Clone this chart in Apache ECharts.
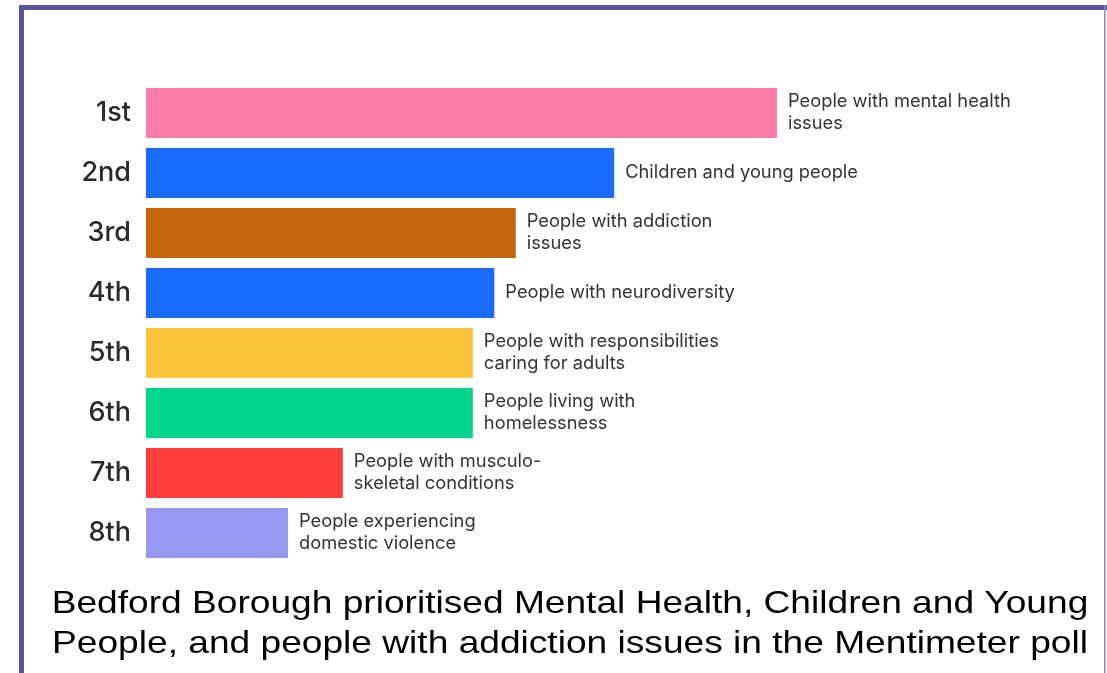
<!DOCTYPE html>
<html>
<head>
<meta charset="utf-8">
<script src="https://cdn.jsdelivr.net/npm/echarts@6/dist/echarts.min.js"></script>
<style>
  html, body { margin: 0; padding: 0; background: #fff; }
  #chartWrap { width: 1107px; height: 673px; }
</style>
</head>
<body>
<div id="chartWrap"></div>
<script>
// rank labels (top to bottom)
var ranks = ['1st', '2nd', '3rd', '4th', '5th', '6th', '7th', '8th'];
// group names shown beside each bar
var groups = [
  'People with mental health\nissues',
  'Children and young people',
  'People with addiction\nissues',
  'People with neurodiversity',
  'People with responsibilities\ncaring for adults',
  'People living with\nhomelessness',
  'People with musculo-\nskeletal conditions',
  'People experiencing\ndomestic violence'
];
// relative score (first place = 100)
var scores = [100, 74.2, 58.6, 55.2, 51.8, 51.8, 31.2, 22.5];
var colours = ['#ff7ea8', '#196cff', '#c8640c', '#196cff', '#fbc43a', '#03d68a', '#ff3d3d', '#9597f0'];
var caption = [
  'Bedford Borough prioritised Mental Health, Children and Young',
  'People, and people with addiction issues in the Mentimeter poll'
];

var dom = document.getElementById('chartWrap');
var myChart = echarts.init(dom);

var barData = [];
for (var i = 0; i < scores.length; i++) {
  barData.push({
    value: scores[i],
    itemStyle: { color: colours[i] },
    label: { formatter: groups[i] }
  });
}

var option = {
  backgroundColor: '#fff',
  animation: false,
  grid: {
    left: 146,
    top: 83,
    width: 631,
    height: 480
  },
  xAxis: {
    type: 'value',
    min: 0,
    max: 100,
    show: false
  },
  yAxis: {
    type: 'category',
    inverse: true,
    data: ranks,
    axisLine: { show: false },
    axisTick: { show: false },
    axisLabel: {
      margin: 15,
      fontFamily: 'Inter',
      fontSize: 27,
      fontWeight: 500,
      color: '#2b2b2b',
      padding: [4, 0, 0, 0]
    }
  },
  series: [{
    type: 'bar',
    data: barData,
    barCategoryGap: '16.7%',
    label: {
      show: true,
      position: 'right',
      distance: 11,
      fontFamily: 'Inter',
      fontSize: 18.3,
      lineHeight: 22,
      color: '#333',
      align: 'left',
      padding: [0, 0, 10, 0]
    }
  }],
  graphic: [
    // frame
    { type: 'rect', shape: { x: 19, y: 5, width: 5, height: 668 }, style: { fill: '#57529c' } },
    { type: 'rect', shape: { x: 19, y: 5, width: 1088, height: 5 }, style: { fill: '#57529c' } },
    { type: 'rect', shape: { x: 1104, y: 5, width: 1.5, height: 668 }, style: { fill: '#8985c8' } },
    // caption (source text is horizontally stretched)
    {
      type: 'text', x: 570, y: 584, scaleX: 1.16,
      style: {
        text: caption.join('\n'),
        font: '32px "Liberation Sans", Arial, sans-serif',
        lineHeight: 40,
        fill: '#000',
        align: 'center',
        verticalAlign: 'top'
      }
    }
  ]
};

if (option && typeof option === 'object') {
  myChart.setOption(option, true);
}
</script>
</body>
</html>
